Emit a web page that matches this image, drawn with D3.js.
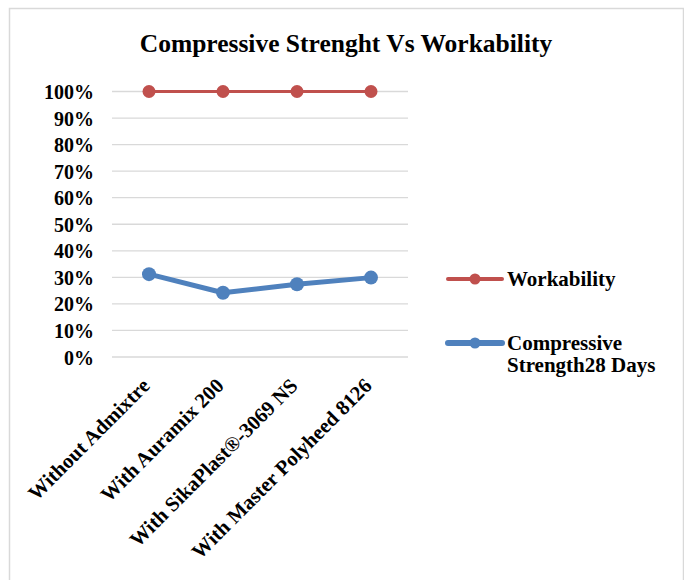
<!DOCTYPE html>
<html><head><meta charset="utf-8">
<script src="https://d3js.org/d3.v7.min.js"></script>
<style>body{margin:0;background:#fff}svg{display:block}</style>
</head><body>
<script>
const categories = ["Without Admixtre","With Auramix 200","With SikaPlast®-3069 NS","With Master Polyheed 8126"];
const workability = [1.00, 1.00, 1.00, 1.00];
const compressive = [0.312, 0.242, 0.274, 0.299];
const yTicks = [0,0.1,0.2,0.3,0.4,0.5,0.6,0.7,0.8,0.9,1.0];
const seriesNames = ["Workability", "Compressive Strength28 Days"];
const title = "Compressive Strenght Vs Workability";

const W = 684, H = 580;
const svg = d3.select("body").append("svg").attr("width", W).attr("height", H);
const font = "'Liberation Serif','Times New Roman',serif";

// border
svg.append("path").attr("d", `M9.5,${H} V8.5 H683.5 V${H}`).attr("fill","none").attr("stroke","#d9d9d9").attr("stroke-width",1.5);

svg.append("text").attr("x", 346).attr("y", 52).attr("text-anchor","middle")
  .attr("font-family", font).attr("font-weight","bold").attr("font-size", 25.5).text(title);

const x = d3.scaleBand().domain(categories).range([112, 408]);
const y = d3.scaleLinear().domain([0,1]).range([357, 91.5]);

const g = svg.append("g");
g.selectAll("line.grid").data(yTicks).join("line").attr("class","grid")
  .attr("x1", 112).attr("x2", 408).attr("y1", d=>y(d)).attr("y2", d=>y(d))
  .attr("stroke","#d9d9d9").attr("stroke-width",1.3);

const yAxis = g.append("g").attr("transform","translate(112,0)")
  .call(d3.axisLeft(y).tickValues(yTicks).tickFormat(d3.format(".0%")).tickSize(0).tickPadding(18));
yAxis.select(".domain").remove();
yAxis.selectAll("text").attr("font-family", font).attr("font-weight","bold").attr("font-size", 20).attr("fill","#000").attr("dy","0.35em");

const xAxis = g.append("g").attr("transform","translate(0,357)")
  .call(d3.axisBottom(x).tickSize(0).tickPadding(0));
xAxis.select(".domain").remove();
xAxis.selectAll("text").attr("font-family", font).attr("font-weight","bold").attr("font-size", 20.7).attr("fill","#000")
  .attr("text-anchor","end").attr("dy", null)
  .attr("transform","translate(2,30) rotate(-45)");

const cx = d => x(d) + x.bandwidth()/2;
const line = d3.line().x(d=>cx(d[0])).y(d=>y(d[1]));
const series = [
  {name: seriesNames[0], vals: workability, color:"#C0504D", w:3, r:6.5},
  {name: seriesNames[1], vals: compressive, color:"#4F81BD", w:5, r:7}
];
series.forEach(s => {
  const pts = categories.map((c,i)=>[c, s.vals[i]]);
  g.append("path").datum(pts).attr("d", line).attr("fill","none").attr("stroke", s.color).attr("stroke-width", s.w).attr("stroke-linejoin","round");
  g.selectAll(null).data(pts).join("circle").attr("cx", d=>cx(d[0])).attr("cy", d=>y(d[1])).attr("r", s.r).attr("fill", s.color);
});

// legend
const leg = svg.append("g");
const ly = [279, 343];
series.forEach((s,i) => {
  leg.append("line").attr("x1",448).attr("x2",502).attr("y1",ly[i]).attr("y2",ly[i]).attr("stroke",s.color).attr("stroke-width",s.w+1).attr("stroke-linecap","round");
  leg.append("circle").attr("cx",475).attr("cy",ly[i]).attr("r",5.5).attr("fill",s.color);
});
leg.append("text").attr("x",507).attr("y",286).attr("font-family",font).attr("font-weight","bold").attr("font-size",21).text("Workability");
const t2 = leg.append("text").attr("x",507).attr("y",350).attr("font-family",font).attr("font-weight","bold").attr("font-size",21);
t2.append("tspan").attr("x",507).text("Compressive");
t2.append("tspan").attr("x",507).attr("dy",22).text("Strength28 Days");
</script>
</body></html>
